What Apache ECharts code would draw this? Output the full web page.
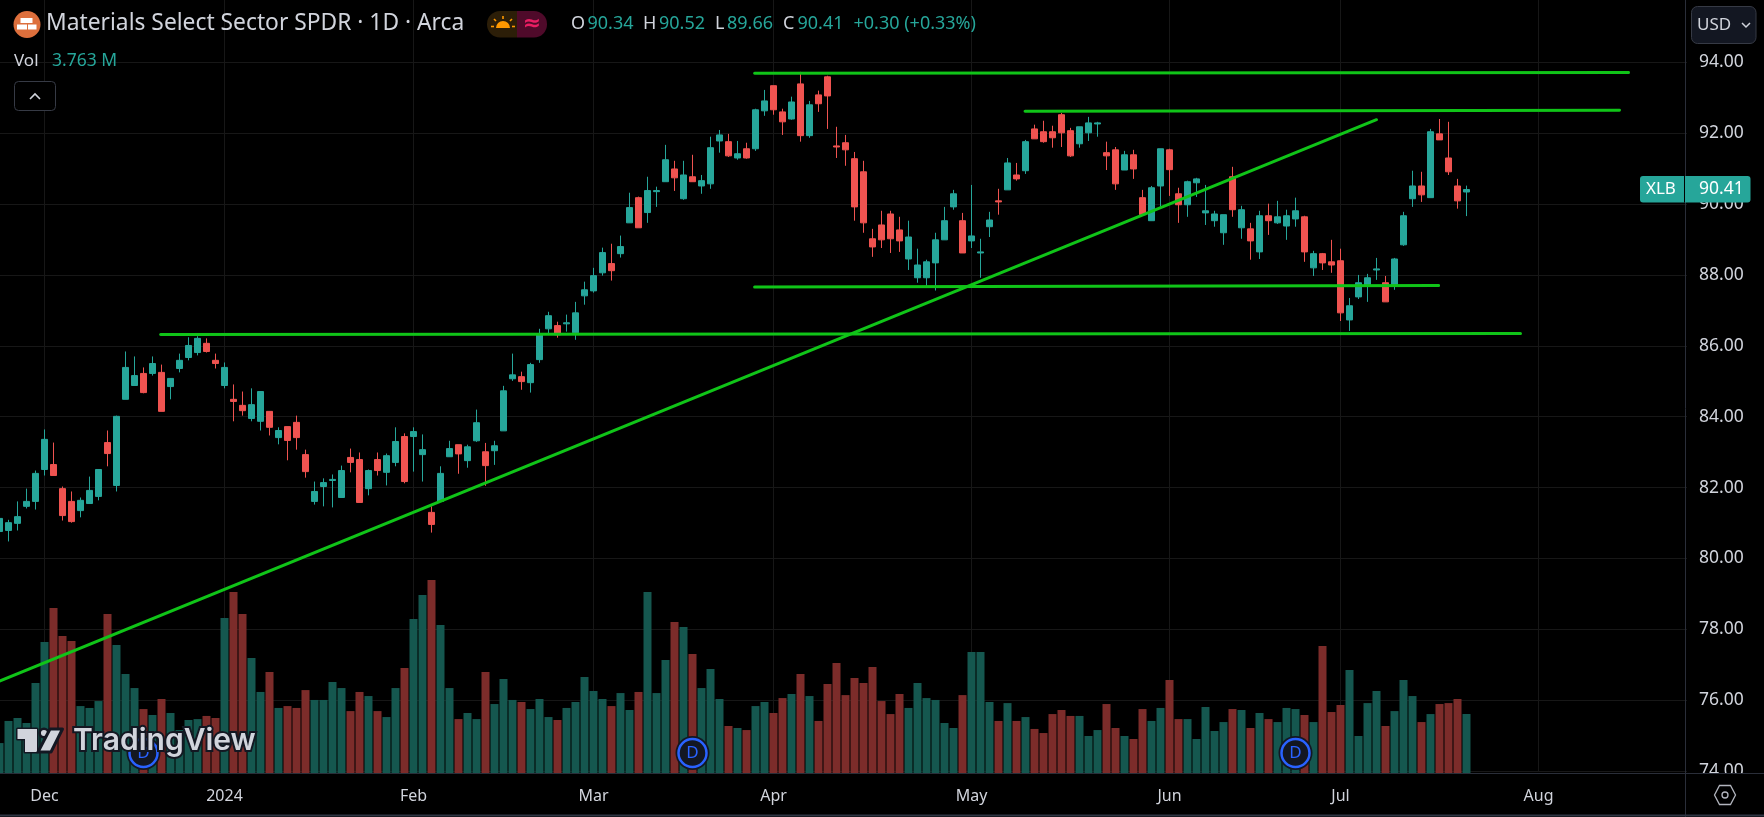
<!DOCTYPE html>
<html>
<head>
<meta charset="utf-8">
<title>XLB</title>
<script src="https://cdn.jsdelivr.net/npm/echarts@6/dist/echarts.min.js"></script>
<style>html,body{margin:0;padding:0;background:#000;overflow:hidden}#c{width:1764px;height:817px}</style>
</head>
<body>
<div id="c"></div>
<script>
const categories = [
"2023-11-24","2023-11-27","2023-11-28","2023-11-29","2023-11-30",
"2023-12-01","2023-12-04","2023-12-05","2023-12-06","2023-12-07","2023-12-08","2023-12-11","2023-12-12","2023-12-13","2023-12-14","2023-12-15","2023-12-18","2023-12-19","2023-12-20","2023-12-21","2023-12-22","2023-12-26","2023-12-27","2023-12-28","2023-12-29",
"2024-01-02","2024-01-03","2024-01-04","2024-01-05","2024-01-08","2024-01-09","2024-01-10","2024-01-11","2024-01-12","2024-01-16","2024-01-17","2024-01-18","2024-01-19","2024-01-22","2024-01-23","2024-01-24","2024-01-25","2024-01-26","2024-01-29","2024-01-30","2024-01-31",
"2024-02-01","2024-02-02","2024-02-05","2024-02-06","2024-02-07","2024-02-08","2024-02-09","2024-02-12","2024-02-13","2024-02-14","2024-02-15","2024-02-16","2024-02-20","2024-02-21","2024-02-22","2024-02-23","2024-02-26","2024-02-27","2024-02-28","2024-02-29",
"2024-03-01","2024-03-04","2024-03-05","2024-03-06","2024-03-07","2024-03-08","2024-03-11","2024-03-12","2024-03-13","2024-03-14","2024-03-15","2024-03-18","2024-03-19","2024-03-20","2024-03-21","2024-03-22","2024-03-25","2024-03-26","2024-03-27","2024-03-28",
"2024-04-01","2024-04-02","2024-04-03","2024-04-04","2024-04-05","2024-04-08","2024-04-09","2024-04-10","2024-04-11","2024-04-12","2024-04-15","2024-04-16","2024-04-17","2024-04-18","2024-04-19","2024-04-22","2024-04-23","2024-04-24","2024-04-25","2024-04-26","2024-04-29","2024-04-30",
"2024-05-01","2024-05-02","2024-05-03","2024-05-06","2024-05-07","2024-05-08","2024-05-09","2024-05-10","2024-05-13","2024-05-14","2024-05-15","2024-05-16","2024-05-17","2024-05-20","2024-05-21","2024-05-22","2024-05-23","2024-05-24","2024-05-28","2024-05-29","2024-05-30","2024-05-31",
"2024-06-03","2024-06-04","2024-06-05","2024-06-06","2024-06-07","2024-06-10","2024-06-11","2024-06-12","2024-06-13","2024-06-14","2024-06-17","2024-06-18","2024-06-20","2024-06-21","2024-06-24","2024-06-25","2024-06-26","2024-06-27","2024-06-28",
"2024-07-01","2024-07-02","2024-07-03","2024-07-05","2024-07-08","2024-07-09","2024-07-10","2024-07-11","2024-07-12","2024-07-15","2024-07-16","2024-07-17","2024-07-18","2024-07-19","2024-07-22","2024-07-23","2024-07-24","2024-07-25","2024-07-26","2024-07-29","2024-07-30","2024-07-31",
"2024-08-01","2024-08-02","2024-08-05","2024-08-06","2024-08-07","2024-08-08","2024-08-09","2024-08-12","2024-08-13","2024-08-14","2024-08-15","2024-08-16","2024-08-19","2024-08-20","2024-08-21","2024-08-22","2024-08-23"];

const monthLabels = {"2023-12-01":"Dec","2024-01-02":"2024","2024-02-01":"Feb","2024-03-01":"Mar","2024-04-01":"Apr","2024-05-01":"May","2024-06-03":"Jun","2024-07-01":"Jul","2024-08-01":"Aug"};

const opens = [80.76,80.79,80.99,81.47,81.61,82.51,82.65,81.97,81.61,81.35,
81.55,81.75,83.27,82.06,84.49,84.88,85.22,85.22,85.25,84.85,
85.36,85.67,85.81,86.07,85.59,84.88,84.49,84.32,83.95,83.87,
84.15,83.41,83.72,83.84,82.93,81.61,82.03,82.20,81.72,82.85,
82.79,81.97,82.79,82.43,82.71,83.44,83.44,82.93,81.30,81.61,
82.87,83.21,82.76,83.32,83.01,83.04,83.60,85.07,85.13,84.96,
85.61,86.48,86.57,86.62,86.37,87.41,87.55,88.06,88.32,88.60,
89.47,90.18,89.76,90.35,90.63,90.99,90.15,90.77,90.51,90.57,
91.78,91.76,91.30,91.56,91.56,92.63,93.34,92.60,92.40,93.39,
91.93,93.08,93.59,91.64,91.73,91.28,90.91,89.02,89.41,89.72,
89.27,88.45,87.92,87.92,88.34,88.99,89.92,89.53,88.96,88.62,
89.36,90.09,90.40,90.82,90.94,92.12,92.04,92.04,92.52,92.07,
91.70,92.01,92.26,91.45,91.53,90.96,91.39,90.18,89.53,90.51,
91.53,90.29,89.98,90.60,89.75,89.53,89.19,90.77,89.33,89.30,
88.65,89.67,89.47,89.38,89.58,89.64,88.20,88.60,88.37,88.40,
86.73,87.38,87.69,88.14,87.78,87.69,88.85,90.15,90.51,90.18,
91.98,91.30,90.51,90.34];
const closes = [81.13,81.01,81.18,81.61,82.40,83.36,82.34,81.21,81.04,81.64,
81.92,82.51,82.96,84.01,85.39,85.16,84.68,85.50,84.15,85.08,
85.59,86.01,86.21,85.84,85.50,85.39,84.43,84.17,84.34,84.71,
83.70,83.61,83.33,83.41,82.45,81.89,82.14,82.23,82.48,82.71,
81.58,82.48,82.48,82.90,83.30,82.17,83.58,83.07,80.96,82.40,
83.10,82.95,83.15,83.83,82.62,83.18,84.73,85.18,84.99,85.47,
86.34,86.85,86.31,86.65,86.93,87.58,87.98,88.63,88.12,88.80,
89.90,89.33,90.38,90.38,91.25,90.74,90.82,90.63,90.66,91.59,
91.95,91.36,91.42,91.30,92.66,92.91,92.66,92.32,92.88,91.93,
92.80,92.83,93.05,91.61,91.53,89.92,89.47,88.79,88.99,89.02,
88.96,89.07,88.28,88.37,88.99,89.53,90.29,88.62,89.10,88.65,
89.55,90.06,91.16,90.71,91.76,91.84,91.76,91.87,92.01,91.36,
92.18,92.29,92.29,91.36,90.57,91.39,90.99,89.70,90.46,91.56,
90.97,89.98,90.63,90.71,89.81,89.72,89.70,89.84,89.84,88.96,
89.67,89.53,89.64,89.67,89.81,88.65,88.60,88.34,88.28,86.93,
87.13,87.78,87.92,88.17,87.24,88.45,89.67,90.51,90.26,92.04,
91.81,90.91,90.09,90.41];
const lows = [80.60,80.48,80.79,81.41,81.38,82.34,82.34,81.07,81.01,81.16,
81.55,81.64,82.60,81.89,84.49,84.88,84.66,85.16,84.15,84.49,
85.25,85.59,85.73,85.81,85.36,84.80,83.87,84.03,83.87,83.61,
83.47,83.22,82.77,83.07,82.28,81.52,81.47,81.44,81.72,82.43,
81.58,81.78,82.34,82.06,82.60,82.12,82.45,82.17,80.73,81.61,
82.87,82.39,82.56,83.29,82.05,82.64,83.60,85.01,84.76,84.68,
85.52,86.31,86.23,86.40,86.17,87.16,87.50,87.98,87.84,88.49,
89.47,89.33,89.47,89.92,90.63,90.37,90.12,90.63,90.29,90.43,
91.45,91.33,91.25,91.28,91.50,92.49,92.52,91.95,92.38,91.76,
91.87,92.60,92.12,91.30,91.08,89.53,89.19,88.51,88.76,88.62,
88.65,88.14,87.78,87.66,87.56,88.99,89.84,88.62,88.76,87.92,
89.07,89.70,90.40,90.66,90.85,91.84,91.73,91.59,91.61,91.33,
91.59,91.78,91.90,90.96,90.40,90.96,90.71,89.70,89.53,89.92,
90.23,89.47,89.64,90.20,89.41,89.36,88.85,89.64,89.02,88.43,
88.45,89.13,89.44,88.99,89.36,88.37,87.97,88.14,88.06,86.70,
86.42,87.32,87.24,87.86,87.24,87.58,88.82,89.92,90.06,90.18,
91.81,90.82,89.87,89.66];
const highs = [81.20,81.09,81.61,81.97,82.48,83.64,83.27,82.03,81.89,81.72,
82.31,82.51,83.61,84.03,85.84,85.70,85.39,85.70,85.47,85.08,
85.78,86.24,86.27,86.21,85.78,85.53,84.91,84.71,84.80,84.71,
84.15,83.70,83.72,84.03,83.07,82.17,82.26,82.37,82.62,83.10,
82.99,82.51,82.99,82.96,83.70,83.53,83.70,83.50,81.47,82.60,
83.32,83.21,83.21,84.20,83.26,83.32,84.87,85.78,85.27,85.52,
86.48,86.96,86.68,86.88,87.24,87.81,88.20,88.77,88.88,89.11,
90.32,90.21,90.77,90.49,91.67,91.22,91.22,91.39,90.82,91.90,
92.09,91.98,91.78,91.73,92.69,93.22,93.34,92.69,93.03,93.73,
92.91,93.20,93.62,92.18,91.95,91.47,91.22,89.30,89.81,89.81,
89.64,89.53,88.74,88.43,89.19,89.92,90.40,89.75,90.54,89.02,
89.78,90.43,91.30,91.16,91.81,92.24,92.35,92.21,92.57,92.15,
92.18,92.46,92.32,91.76,91.61,91.50,91.53,90.40,90.51,91.56,
91.56,90.46,90.66,90.74,90.54,89.81,89.70,91.05,89.95,89.47,
89.81,90.01,90.09,89.84,90.18,89.67,88.68,88.62,88.99,88.74,
87.35,88.00,88.03,88.48,87.97,88.48,89.78,90.94,90.91,92.12,
92.40,92.32,90.71,90.52];
// Volume in millions of shares
const volumes = [1.91,3.32,3.51,3.19,5.74,8.36,10.52,8.74,8.42,4.27,
4.15,4.59,10.14,8.16,6.31,5.42,4.08,3.70,4.72,3.83,
2.74,3.38,3.44,3.64,3.51,9.89,11.54,10.14,7.33,5.17,
6.44,4.15,4.27,4.15,5.29,4.66,4.66,5.80,5.42,3.95,
5.17,4.91,3.95,3.57,5.42,6.70,9.82,11.35,12.31,9.44,
5.42,3.44,3.83,3.44,6.44,4.40,6.00,4.66,4.53,4.08,
4.72,3.57,3.38,4.15,4.53,6.12,5.23,4.72,4.27,5.10,
4.02,5.17,11.54,5.10,7.21,9.63,9.31,7.59,5.42,6.63,
4.72,3.00,2.87,2.74,4.27,4.53,3.83,4.78,5.04,6.31,
4.91,3.32,5.68,7.02,4.97,6.06,5.74,6.76,4.59,3.76,
5.04,4.15,5.74,4.78,4.66,3.19,2.87,4.97,7.72,7.72,
4.53,3.32,4.46,3.32,3.57,2.81,2.55,3.76,4.02,3.64,
3.64,2.36,2.74,4.40,2.87,2.36,2.17,4.08,3.32,4.15,
5.93,3.44,3.44,2.17,4.21,2.68,3.25,4.08,4.02,2.87,
3.83,3.44,3.25,4.15,4.08,3.70,3.25,8.10,3.89,4.34,
6.57,2.36,4.46,5.23,3.00,3.95,5.93,4.91,3.25,3.76,
4.40,4.46,4.72,3.763];
const dividendDates = ["2023-12-18","2024-03-18","2024-06-24"];
const priceTicks = {min: 74, max: 96, step: 2};
// Hand-drawn trend lines: [bar position, price]
const lineTop = [[83.9,93.69],[181.0,93.71]];
const lineUpper = [[113.95,92.62],[180.0,92.65]];
const lineMid = [[83.9,87.66],[159.9,87.70]];
const lineSupport = [[17.9,86.32],[169.0,86.35]];
const lineTrend = [[0,76.54],[153.0,92.38]];
const lastPrice = {symbol:"XLB", value:"90.41"};
const ohlcText = [["O","90.34",571,587.5],["H","90.52",643,659],["L","89.66",715,727],["C","90.41",783,797.5]];

const UP="#26a69a",DOWN="#ef5350",VUP="#15574f",VDOWN="#7c2c2a",TXT="#d1d4dc",GRID="#171717",PANEL="#2a2e39",LINE="#10c418";
const FONT='"Noto Sans"';
const chart = echarts.init(document.getElementById('c'),null,{renderer:'canvas'});

const candleData = opens.map((o,i)=>[o,closes[i],lows[i],highs[i]]);
const volData = volumes.map((v,i)=>({value:v,itemStyle:{color:closes[i]>=opens[i]?VUP:VDOWN}}));
const isTick = (idx,val)=>val in monthLabels;
const trendSeries = d=>({type:'line',xAxisIndex:1,yAxisIndex:0,data:d,symbol:'none',silent:true,z:6,
  clip:true,lineStyle:{color:LINE,width:3,cap:'round'},animation:false});

function t(text,x,y,fill,size,extra){
  return {type:'text',x,y,z:30,silent:true,style:Object.assign({text,fill,font:size+'px '+FONT,verticalAlign:'middle',align:'left'},extra||{})};
}
const shapeZ=30;
const graphics = [
  // bottom cover, clips the lowest price label like the reference
  {type:'rect',z:10,silent:true,shape:{x:0,y:773,width:1764,height:44},style:{fill:'#000'}},
  {type:'line',z:11,silent:true,shape:{x1:0,y1:773.5,x2:1764,y2:773.5},style:{stroke:PANEL,lineWidth:1}},
  {type:'line',z:11,silent:true,shape:{x1:1685.5,y1:0,x2:1685.5,y2:817},style:{stroke:PANEL,lineWidth:1}},
  {type:'line',z:11,silent:true,shape:{x1:0,y1:815.5,x2:1764,y2:815.5},style:{stroke:'#2e3442',lineWidth:2}},
  // header
  {type:'circle',z:shapeZ,silent:true,shape:{cx:27,cy:24.5,r:13.5},style:{fill:'#dd6f3c'}},
  {type:'rect',z:shapeZ,silent:true,shape:{x:20.5,y:18,width:12,height:5},style:{fill:'#fff'}},
  {type:'rect',z:shapeZ,silent:true,shape:{x:17,y:24.5,width:10,height:5},style:{fill:'#fff'}},
  {type:'rect',z:shapeZ,silent:true,shape:{x:28,y:24.5,width:8.5,height:5},style:{fill:'#fff'}},
  t('Materials Select Sector SPDR · 1D · Arca',46,24,TXT,22.8),
  {type:'rect',z:shapeZ,silent:true,shape:{x:487,y:11,width:30,height:26.5,r:[13,0,0,13]},style:{fill:'#2c1e08'}},
  {type:'rect',z:shapeZ,silent:true,shape:{x:517,y:11,width:30,height:26.5,r:[0,13,13,0]},style:{fill:'#4f0a2a'}},
  {type:'sector',z:shapeZ,silent:true,shape:{cx:503,cy:28,r0:0,r:7,startAngle:Math.PI,endAngle:2*Math.PI},style:{fill:'#ff9800'}},
  {type:'line',z:shapeZ,silent:true,shape:{x1:503,y1:16,x2:503,y2:19},style:{stroke:'#ff9800',lineWidth:1.6}},
  {type:'line',z:shapeZ,silent:true,shape:{x1:494,y1:19,x2:496,y2:21},style:{stroke:'#ff9800',lineWidth:1.6}},
  {type:'line',z:shapeZ,silent:true,shape:{x1:512,y1:19,x2:510,y2:21},style:{stroke:'#ff9800',lineWidth:1.6}},
  {type:'line',z:shapeZ,silent:true,shape:{x1:494,y1:26.5,x2:491,y2:26.5},style:{stroke:'#ff9800',lineWidth:1.6}},
  {type:'line',z:shapeZ,silent:true,shape:{x1:512,y1:26.5,x2:515,y2:26.5},style:{stroke:'#ff9800',lineWidth:1.6}},
  t('≈',532,24,'#e91e63',22,{align:'center',font:'bold 22px "DejaVu Sans"'}),
  ...ohlcText.flatMap(r=>[t(r[0],r[2],24,TXT,18),t(r[1],r[3],24,UP,18)]),
  t('+0.30 (+0.33%)',853.5,24,UP,18),
  t('Vol',14,61,TXT,17),
  t('3.763 M',52,61,UP,17.5),
  {type:'rect',z:shapeZ,silent:true,shape:{x:14.5,y:81.5,width:41,height:29,r:4},style:{fill:'#000',stroke:'#363a45',lineWidth:1}},
  {type:'polyline',z:shapeZ,silent:true,shape:{points:[[30,99],[35,94],[40,99]]},style:{stroke:TXT,fill:'none',lineWidth:1.6}},
  // currency button
  {type:'rect',z:shapeZ,silent:true,shape:{x:1691.5,y:6.5,width:64.5,height:37,r:6},style:{fill:'#131722',stroke:'#363a45',lineWidth:1}},
  t('USD',1697,25,TXT,17),
  {type:'polyline',z:shapeZ,silent:true,shape:{points:[[1742,23],[1746,27],[1750,23]]},style:{stroke:TXT,fill:'none',lineWidth:1.5}},
  // last price tag
  {type:'rect',z:shapeZ,silent:true,shape:{x:1640,y:176,width:110.5,height:26.5,r:3},style:{fill:UP}},
  {type:'line',z:shapeZ+1,silent:true,shape:{x1:1684.5,y1:176,x2:1684.5,y2:202.5},style:{stroke:'#000',lineWidth:1}},
  t(lastPrice.symbol,1646,189.5,'#fff',17),
  t(lastPrice.value,1699,189.5,'#fff',17.5),
  // settings icon
  {type:'polygon',z:shapeZ,silent:true,shape:{points:[[1714.5,795],[1719.5,785.5],[1730.5,785.5],[1735.5,795],[1730.5,804.5],[1719.5,804.5]]},style:{fill:'none',stroke:'#b2b5be',lineWidth:1.3}},
  {type:'circle',z:shapeZ,silent:true,shape:{cx:1725,cy:795,r:3},style:{fill:'none',stroke:'#b2b5be',lineWidth:1.3}},
  // TradingView watermark
  {type:'polygon',z:40,silent:true,shape:{points:[[17.5,729],[37,729],[37,752],[25,752],[25,739],[17.5,739]]},style:{fill:TXT,stroke:'#131722',lineWidth:3,lineJoin:'round',strokeFirst:true}},
  {type:'circle',z:40,silent:true,shape:{cx:44,cy:733,r:4.3},style:{fill:TXT,stroke:'#131722',lineWidth:2.5}},
  {type:'polygon',z:40,silent:true,shape:{points:[[50,729],[62.5,729],[51,752],[38,752]]},style:{fill:TXT,stroke:'#131722',lineWidth:3,lineJoin:'round'}},
  {type:'text',z:40,x:73,y:741,silent:true,style:{text:'TradingView',fill:TXT,stroke:'#131722',lineWidth:4,font:'600 30px Inter',verticalAlign:'middle',align:'left'}}
];

chart.setOption({
  animation:false,
  backgroundColor:'#000',
  graphic:{elements:graphics},
  grid:[
    {left:-5,top:-8.6,width:1692,height:779.7,containLabel:false,outerBoundsMode:'none'},
    {left:-5,top:573,width:1692,height:200,containLabel:false,outerBoundsMode:'none'}
  ],
  xAxis:[
    {type:'category',gridIndex:0,data:categories,boundaryGap:true,
      axisLine:{show:false},axisTick:{show:false},axisLabel:{show:false},
      splitLine:{show:true,alignWithLabel:true,interval:isTick,lineStyle:{color:GRID,width:1}}},
    {type:'value',gridIndex:0,min:-0.5,max:187.5,show:false,splitLine:{show:false}},
    {type:'category',gridIndex:1,data:categories,boundaryGap:true,z:20,
      axisLine:{show:false},axisTick:{show:false},splitLine:{show:false},
      axisLabel:{show:true,interval:isTick,formatter:v=>monthLabels[v]||'',color:TXT,fontFamily:FONT,fontSize:16,margin:15,hideOverlap:false}}
  ],
  yAxis:[
    {type:'value',gridIndex:0,position:'right',min:priceTicks.min,max:priceTicks.max,interval:priceTicks.step,
      axisLine:{show:false},axisTick:{show:false},
      axisLabel:{color:TXT,fontFamily:FONT,fontSize:17.5,margin:12,formatter:v=>v.toFixed(2)},
      splitLine:{show:true,lineStyle:{color:GRID,width:1}}},
    {type:'value',gridIndex:1,min:0,max:12.76,show:false,splitLine:{show:false}}
  ],
  series:[
    {type:'bar',name:'Vol',xAxisIndex:2,yAxisIndex:1,data:volData,barWidth:8,z:2,silent:true},
    {type:'candlestick',name:'XLB',xAxisIndex:0,yAxisIndex:0,data:candleData,barWidth:6,z:4,silent:true,
      itemStyle:{color:UP,color0:DOWN,borderColor:UP,borderColor0:DOWN,borderWidth:1}},
    trendSeries(lineTop),trendSeries(lineUpper),trendSeries(lineMid),trendSeries(lineSupport),trendSeries(lineTrend),
    {type:'scatter',xAxisIndex:2,yAxisIndex:1,z:7,silent:true,symbolSize:34,
      data:dividendDates.map(d=>[d,1.28]),itemStyle:{color:'#131722',opacity:1}},
    {type:'scatter',xAxisIndex:2,yAxisIndex:1,z:8,silent:true,symbolSize:28,
      data:dividendDates.map(d=>[d,1.28]),
      itemStyle:{color:'#131722',borderColor:'#2962ff',borderWidth:2.5,opacity:1},
      label:{show:true,position:'inside',formatter:'D',color:'#2962ff',fontFamily:FONT,fontSize:17}}
  ]
});
</script>
</body>
</html>
